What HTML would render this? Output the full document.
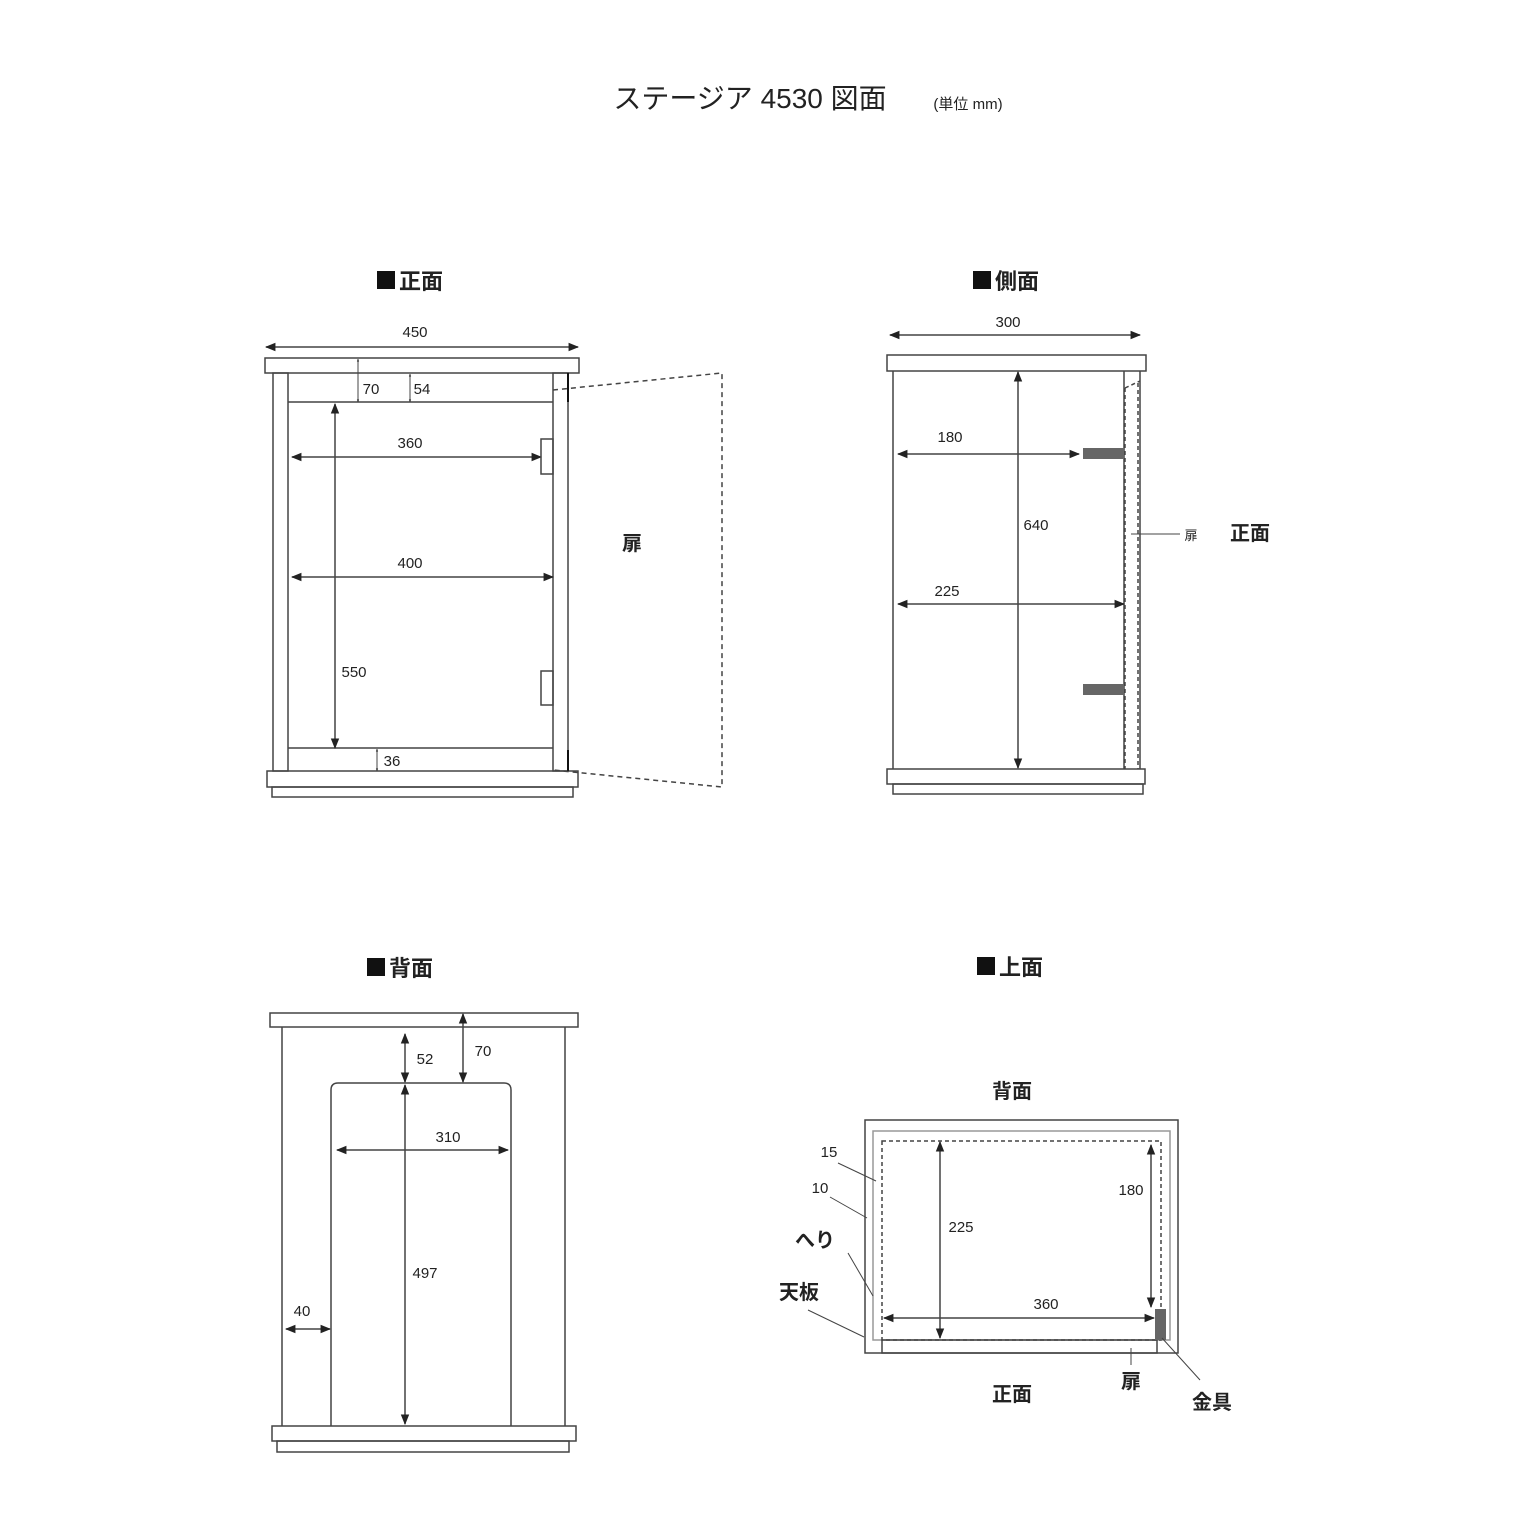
<!DOCTYPE html>
<html><head><meta charset="utf-8"><style>
html,body{margin:0;padding:0;background:#fff;}
svg{display:block;}
text{font-family:"Liberation Sans","Noto Sans CJK JP",sans-serif;fill:#222;}
.b{font-weight:bold;}
</style></head><body>
<svg width="1536" height="1536" viewBox="0 0 1536 1536" xmlns="http://www.w3.org/2000/svg">
<defs>
<marker id="a" viewBox="0 0 10 10" refX="9" refY="5" markerWidth="7" markerHeight="7" orient="auto-start-reverse"><path d="M0,1 L10,5 L0,9 z" fill="#222"/></marker>
<marker id="s" viewBox="0 0 10 10" refX="9" refY="5" markerWidth="3" markerHeight="3" orient="auto-start-reverse"><path d="M0,1 L10,5 L0,9 z" fill="#222"/></marker>
</defs>
<g stroke="#444" stroke-width="1.5" fill="none">
<text x="750" y="108" font-size="28" text-anchor="middle" stroke="none">ステージア 4530 図面</text>
<text x="968" y="109" font-size="15" text-anchor="middle" stroke="none">(単位 mm)</text>

<!-- front -->
<rect x="377" y="271" width="18" height="18" fill="#111" stroke="none"/>
<text x="399" y="289" font-size="22" class="b" stroke="none">正面</text>
<line x1="266" y1="347" x2="578" y2="347" marker-start="url(#a)" marker-end="url(#a)"/>
<text x="415" y="337" font-size="15" text-anchor="middle" stroke="none">450</text>
<rect x="265" y="358" width="314" height="15"/>
<rect x="273" y="373" width="15" height="398"/>
<rect x="553" y="373" width="15" height="398"/>
<line x1="288" y1="402" x2="553" y2="402"/>
<line x1="288" y1="748" x2="553" y2="748"/>
<rect x="267" y="771" width="311" height="16"/>
<rect x="272" y="787" width="301" height="10"/>
<line x1="568" y1="373" x2="568" y2="402" stroke="#111" stroke-width="2"/>
<line x1="568" y1="750" x2="568" y2="771" stroke="#111" stroke-width="2"/>
<line x1="358" y1="359" x2="358" y2="402" stroke-width="1" marker-start="url(#s)" marker-end="url(#s)"/>
<text x="371" y="394" font-size="15" text-anchor="middle" stroke="none">70</text>
<line x1="410" y1="374" x2="410" y2="402" stroke-width="1" marker-start="url(#s)" marker-end="url(#s)"/>
<text x="422" y="394" font-size="15" text-anchor="middle" stroke="none">54</text>
<line x1="292" y1="457" x2="541" y2="457" marker-start="url(#a)" marker-end="url(#a)"/>
<text x="410" y="448" font-size="15" text-anchor="middle" stroke="none">360</text>
<rect x="541" y="439" width="12" height="35"/>
<rect x="541" y="671" width="12" height="34"/>
<line x1="292" y1="577" x2="553" y2="577" marker-start="url(#a)" marker-end="url(#a)"/>
<text x="410" y="568" font-size="15" text-anchor="middle" stroke="none">400</text>
<line x1="335" y1="404" x2="335" y2="748" marker-start="url(#a)" marker-end="url(#a)"/>
<text x="354" y="677" font-size="15" text-anchor="middle" stroke="none">550</text>
<line x1="377" y1="749" x2="377" y2="771" stroke-width="1" marker-start="url(#s)" marker-end="url(#s)"/>
<text x="392" y="766" font-size="15" text-anchor="middle" stroke="none">36</text>
<polyline points="553,390 722,373 722,787 553,770" stroke-dasharray="5,4"/>
<text x="632" y="550" font-size="20" class="b" text-anchor="middle" stroke="none">扉</text>

<!-- side -->
<rect x="973" y="271" width="18" height="18" fill="#111" stroke="none"/>
<text x="995" y="289" font-size="22" class="b" stroke="none">側面</text>
<line x1="890" y1="335" x2="1140" y2="335" marker-start="url(#a)" marker-end="url(#a)"/>
<text x="1008" y="327" font-size="15" text-anchor="middle" stroke="none">300</text>
<rect x="887" y="355" width="259" height="16"/>
<line x1="893" y1="371" x2="893" y2="769"/>
<line x1="1124" y1="371" x2="1124" y2="769"/>
<line x1="1140" y1="371" x2="1140" y2="769"/>
<line x1="1125" y1="388" x2="1125" y2="769" stroke-dasharray="4,3"/>
<line x1="1138" y1="383" x2="1138" y2="769" stroke-dasharray="4,3"/>
<line x1="1125" y1="388" x2="1140" y2="381" stroke-dasharray="4,3"/>
<rect x="887" y="769" width="258" height="15"/>
<rect x="893" y="784" width="250" height="10"/>
<rect x="1083" y="448" width="41" height="11" fill="#666" stroke="none"/>
<rect x="1083" y="684" width="41" height="11" fill="#666" stroke="none"/>
<line x1="898" y1="454" x2="1079" y2="454" marker-start="url(#a)" marker-end="url(#a)"/>
<text x="950" y="442" font-size="15" text-anchor="middle" stroke="none">180</text>
<line x1="1018" y1="372" x2="1018" y2="768" marker-start="url(#a)" marker-end="url(#a)"/>
<text x="1036" y="530" font-size="15" text-anchor="middle" stroke="none">640</text>
<line x1="898" y1="604" x2="1124" y2="604" marker-start="url(#a)" marker-end="url(#a)"/>
<text x="947" y="596" font-size="15" text-anchor="middle" stroke="none">225</text>
<line x1="1131" y1="534" x2="1180" y2="534" stroke-width="1"/>
<text x="1191" y="540" font-size="13" text-anchor="middle" stroke="none">扉</text>
<text x="1250" y="540" font-size="20" class="b" text-anchor="middle" stroke="none">正面</text>

<!-- back -->
<rect x="367" y="958" width="18" height="18" fill="#111" stroke="none"/>
<text x="389" y="976" font-size="22" class="b" stroke="none">背面</text>
<rect x="270" y="1013" width="308" height="14"/>
<line x1="282" y1="1027" x2="282" y2="1426"/>
<line x1="565" y1="1027" x2="565" y2="1426"/>
<rect x="272" y="1426" width="304" height="15"/>
<rect x="277" y="1441" width="292" height="11"/>
<path d="M331,1426 V1090 Q331,1083 338,1083 H504 Q511,1083 511,1090 V1426"/>
<line x1="405" y1="1034" x2="405" y2="1082" marker-start="url(#a)" marker-end="url(#a)"/>
<text x="425" y="1064" font-size="15" text-anchor="middle" stroke="none">52</text>
<line x1="463" y1="1014" x2="463" y2="1082" marker-start="url(#a)" marker-end="url(#a)"/>
<text x="483" y="1056" font-size="15" text-anchor="middle" stroke="none">70</text>
<line x1="337" y1="1150" x2="508" y2="1150" marker-start="url(#a)" marker-end="url(#a)"/>
<text x="448" y="1142" font-size="15" text-anchor="middle" stroke="none">310</text>
<line x1="405" y1="1085" x2="405" y2="1424" marker-start="url(#a)" marker-end="url(#a)"/>
<text x="425" y="1278" font-size="15" text-anchor="middle" stroke="none">497</text>
<line x1="286" y1="1329" x2="330" y2="1329" marker-start="url(#a)" marker-end="url(#a)"/>
<text x="302" y="1316" font-size="15" text-anchor="middle" stroke="none">40</text>

<!-- top -->
<rect x="977" y="957" width="18" height="18" fill="#111" stroke="none"/>
<text x="999" y="975" font-size="22" class="b" stroke="none">上面</text>
<text x="1012" y="1098" font-size="20" class="b" text-anchor="middle" stroke="none">背面</text>
<rect x="865" y="1120" width="313" height="233"/>
<rect x="873" y="1131" width="297" height="209" stroke="#999"/>
<rect x="882" y="1141" width="279" height="199" stroke-dasharray="4,3"/>
<rect x="882" y="1340" width="275" height="13"/>
<rect x="1155" y="1309" width="11" height="31" fill="#666" stroke="none"/>
<line x1="940" y1="1142" x2="940" y2="1338" marker-start="url(#a)" marker-end="url(#a)"/>
<text x="961" y="1232" font-size="15" text-anchor="middle" stroke="none">225</text>
<line x1="1151" y1="1145" x2="1151" y2="1307" marker-start="url(#a)" marker-end="url(#a)"/>
<text x="1131" y="1195" font-size="15" text-anchor="middle" stroke="none">180</text>
<line x1="884" y1="1318" x2="1154" y2="1318" marker-start="url(#a)" marker-end="url(#a)"/>
<text x="1046" y="1309" font-size="15" text-anchor="middle" stroke="none">360</text>
<g stroke-width="1">
<line x1="838" y1="1163" x2="876" y2="1181"/>
<line x1="830" y1="1197" x2="867" y2="1218"/>
<line x1="848" y1="1253" x2="873" y2="1296"/>
<line x1="808" y1="1310" x2="864" y2="1337"/>
<line x1="1131" y1="1348" x2="1131" y2="1365"/>
<line x1="1162" y1="1338" x2="1200" y2="1380"/>
</g>
<text x="829" y="1157" font-size="15" text-anchor="middle" stroke="none">15</text>
<text x="820" y="1193" font-size="15" text-anchor="middle" stroke="none">10</text>
<text x="815" y="1247" font-size="20" class="b" text-anchor="middle" stroke="none">へり</text>
<text x="799" y="1299" font-size="20" class="b" text-anchor="middle" stroke="none">天板</text>
<text x="1131" y="1388" font-size="20" class="b" text-anchor="middle" stroke="none">扉</text>
<text x="1012" y="1401" font-size="20" class="b" text-anchor="middle" stroke="none">正面</text>
<text x="1212" y="1409" font-size="20" class="b" text-anchor="middle" stroke="none">金具</text>
</g>
</svg>
</body></html>
